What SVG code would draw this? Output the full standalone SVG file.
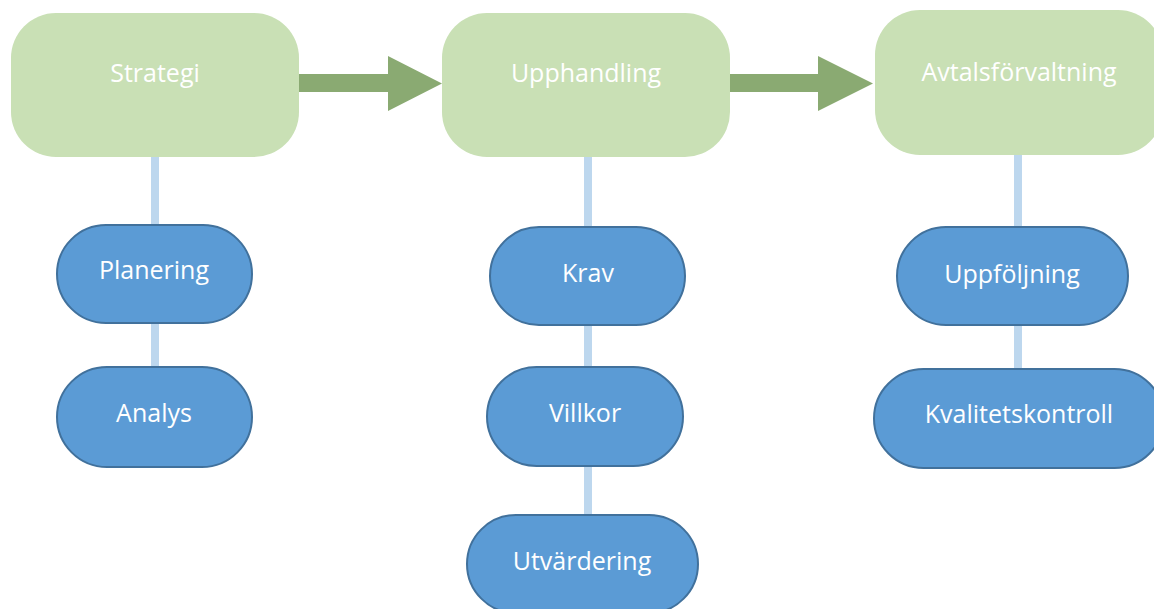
<svg xmlns="http://www.w3.org/2000/svg" width="1154" height="609" viewBox="0 0 1154 609">
<style>
.g{fill:#C9E0B5}
.b{fill:#5B9BD5;stroke:#41719C;stroke-width:2}
.c{stroke:#BDD7EE;stroke-width:8;fill:none}
.a{fill:#8AAA72}
text{font-family:"Open Sans","Noto Sans",sans-serif;font-size:25px;fill:#FFFFFF;text-anchor:middle}
</style>
<rect width="1154" height="609" fill="#FFFFFF"/>
<g id="connectors">
<line class="c" x1="155" y1="150" x2="155" y2="467"/>
<line class="c" x1="588" y1="150" x2="588" y2="520"/>
<line class="c" x1="1018" y1="150" x2="1018" y2="375"/>
<polygon class="a" points="299,74 388,74 388,56 442,83.5 388,111 388,92 299,92"/>
<polygon class="a" points="729,74 818,74 818,56 873,83.5 818,111 818,92 729,92"/>
</g>
<g id="strategi"><rect class="g" x="11" y="13" width="288" height="144" rx="45"/><text x="155" y="82">Strategi</text></g>
<g id="upphandling"><rect class="g" x="442" y="13" width="288" height="144" rx="45"/><text x="586" y="82">Upphandling</text></g>
<g id="avtalsforvaltning"><rect class="g" x="875" y="10" width="288" height="145" rx="45"/><text x="1019" y="81">Avtalsförvaltning</text></g>
<g id="planering"><rect class="b" x="57" y="225" width="195" height="98" rx="49"/><text x="154" y="279">Planering</text></g>
<g id="analys"><rect class="b" x="57" y="367" width="195" height="100" rx="50"/><text x="154" y="422">Analys</text></g>
<g id="krav"><rect class="b" x="490" y="227" width="195" height="98" rx="49"/><text x="588" y="282">Krav</text></g>
<g id="villkor"><rect class="b" x="487" y="367" width="196" height="99" rx="49.5"/><text x="585" y="422">Villkor</text></g>
<g id="utvardering"><rect class="b" x="467" y="515" width="231" height="98" rx="49"/><text x="582" y="570">Utvärdering</text></g>
<g id="uppfoljning"><rect class="b" x="897" y="227" width="231" height="98" rx="49"/><text x="1012" y="283">Uppföljning</text></g>
<g id="kvalitetskontroll"><rect class="b" x="874" y="369" width="290" height="99" rx="49.5"/><text x="1019" y="423">Kvalitetskontroll</text></g>
</svg>
